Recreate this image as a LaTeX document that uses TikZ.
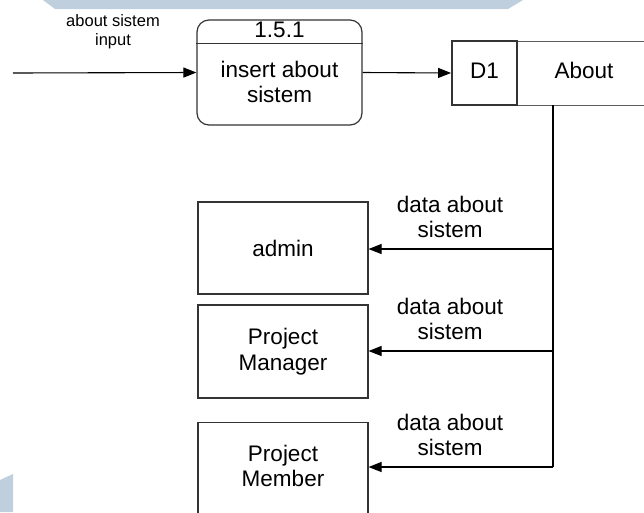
\documentclass[tikz,border=0pt]{standalone}
\usepackage{fontspec}
\setmainfont{Liberation Sans}
\usetikzlibrary{positioning,shapes,arrows,arrows.meta}

\definecolor{wmblue}{HTML}{BFCFDD}
\definecolor{linegray}{HTML}{333333}

\tikzset{
    txt/.style={font=\fontsize{22.5}{25.5}\selectfont, align=center, inner sep=0pt},
    small/.style={font=\fontsize{16.5}{19}\selectfont, align=center, inner sep=0pt},
    procbox/.style={draw=linegray, line width=1.2pt, rounded corners=12pt,
        minimum width=165pt, minimum height=105pt, inner sep=0pt},
    storeid/.style={draw=linegray, line width=1.9pt, minimum width=65pt,
        minimum height=64pt, inner sep=0pt},
    storename/.style={draw=linegray!80, line width=1pt, minimum width=135pt,
        minimum height=64pt, inner sep=0pt},
    entity/.style={draw=linegray, line width=1.1pt, minimum width=170pt,
        inner sep=0pt, font=\fontsize{22.5}{25.5}\selectfont, align=center},
    flow/.style={draw=black, line width=1.1pt, -{Triangle[length=13pt,width=10pt]}}
}

\begin{document}
\begin{tikzpicture}[x=1pt,y=1pt]
    \useasboundingbox (0,0) rectangle (644,-512);

    % watermark pieces
    \fill[wmblue] (43,0) -- (55,-9) -- (508,-9) -- (523,0) -- cycle;
    \fill[wmblue] (0,-480) -- (13,-474) -- (13,-512) -- (0,-512) -- cycle;

    % process 1.5.1
    \node[procbox] (proc) at (279.5,-72.5) {};
    \draw[linegray, line width=1.2pt] ([yshift=-24pt]proc.north west) -- ([yshift=-24pt]proc.north east);
    \node[txt] (procid) at (279.5,-30) {1.5.1};
    \node[txt] (proctext) at (279.5,-82) {insert about\\sistem};

    % data store
    \node[storename, anchor=west] (about) at (517,-73) {};
    \node[storeid] (d1) at (484.5,-73) {};
    \node[txt] (d1txt) at (484.5,-70.5) {D1};
    \node[txt] (abouttxt) at (584,-70.5) {About};

    % entities
    \node[entity, minimum height=92pt] (admin) at (283,-248) {admin};
    \node[entity, minimum height=93pt] (pm) at (283,-351.5) {Project\\Manager};
    \node[entity, minimum height=96pt, anchor=north] (member) at (283,-422) {};
    \node[txt] (membertxt) at (283,-466) {Project\\Member};

    % flows
    \coordinate (src) at (13,-73);
    \coordinate (tap) at (553,-105);
    \coordinate (b1) at (553,-249);
    \coordinate (b2) at (553,-351);
    \coordinate (b3) at (553,-467);
    \draw[flow] (src) -- (proc.west);
    \draw[flow] (proc.east) -- (d1.west);
    \draw[black, line width=1.1pt] (tap) -- (b3);
    \draw[flow] (b1) -- (admin.east |- b1);
    \draw[flow] (b2) -- (pm.east |- b2);
    \draw[flow] (b3) -- (member.east |- b3);

    % labels
    \node[small] (inlbl) at (113,-32) {about sistem\\input};
    \node[txt] (lbl1) at (450,-217) {data about\\sistem};
    \node[txt] (lbl2) at (450,-319) {data about\\sistem};
    \node[txt] (lbl3) at (450,-435) {data about\\sistem};
\end{tikzpicture}
\end{document}
